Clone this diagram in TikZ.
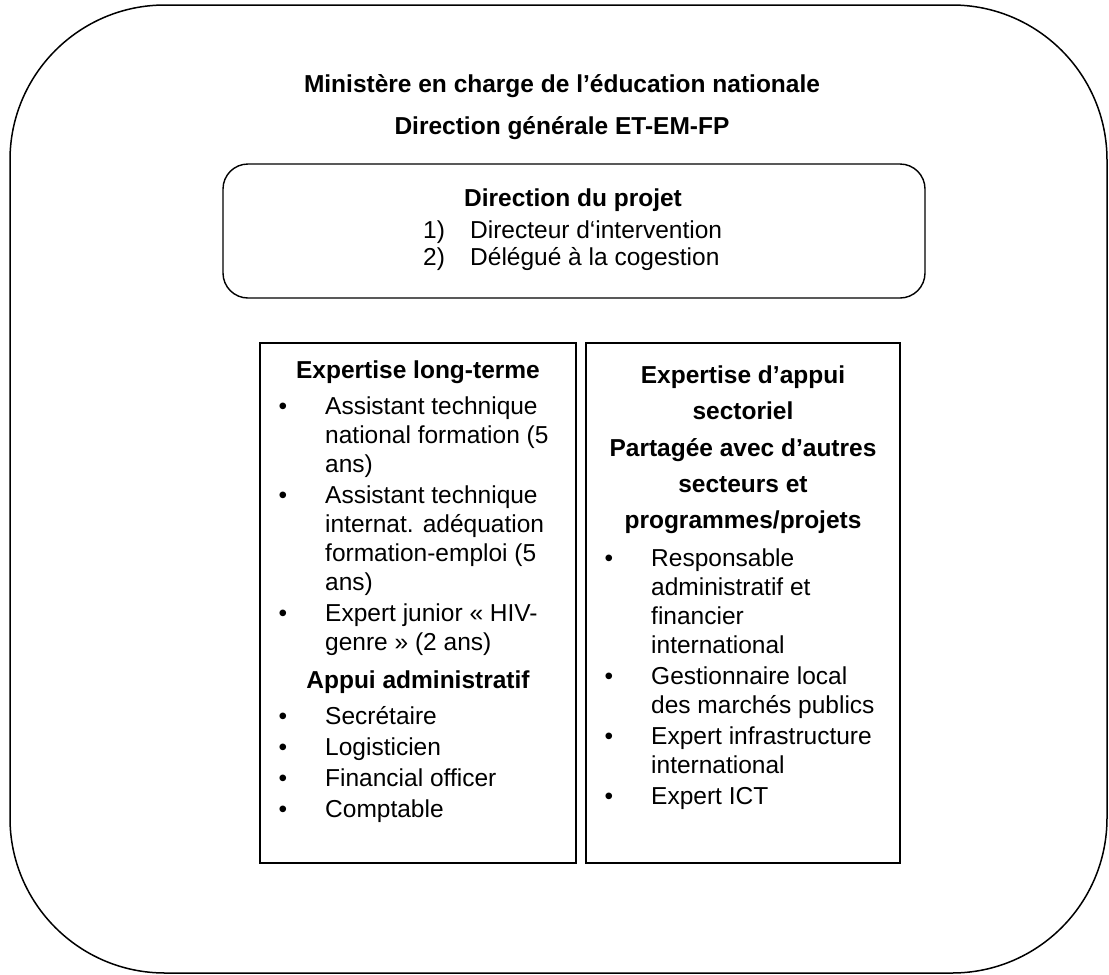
\documentclass[tikz,border=0pt]{standalone}
\usepackage{fontspec}
\setmainfont{Liberation Sans}
\begin{document}
\begin{tikzpicture}[x=1pt,y=-1pt,
  frame/.style={draw=black,line width=1.5pt},
  txt/.style={anchor=base,inner sep=0pt,font=\fontsize{24.5}{28.5}\selectfont},
  head/.style={txt,font=\fontsize{24.5}{28.5}\selectfont\bfseries},
  item/.style={txt,anchor=base west},
  dot/.style={txt,anchor=base}]
\useasboundingbox (0,0) rectangle (1109,975);
% outer frame
\draw[frame] (10,5) [rounded corners=155pt] rectangle (1107,973);
% ministry heading
\node[head] (min) at (562,92) {Ministère en charge de l’éducation nationale};
\node[head] (dg) at (562,134) {Direction générale ET-EM-FP};
% project management box
\draw[frame,line width=1.4pt] (223,164) [rounded corners=25pt] rectangle (925,298);
\node[head] (dp) at (573,206) {Direction du projet};
\node[item] (dp1n) at (423,238) {1)};
\node[item] (dp1) at (470,238) {Directeur d‘intervention};
\node[item] (dp2n) at (423,265) {2)};
\node[item] (dp2) at (470,265) {Délégué à la cogestion};
% long-term expertise box
\draw[frame,line width=1.4pt] (260,343) rectangle (576,863);
\node[head] (lt) at (418,378) {Expertise long-terme};
\node[dot] (b1) at (283,414) {•};
\node[item] (l1a) at (325,414) {Assistant technique};
\node[item] (l1b) at (325,443) {national formation (5};
\node[item] (l1c) at (325,472) {ans)};
\node[dot] (b2) at (283,503) {•};
\node[item] (l2a) at (325,503) {Assistant technique};
\node[item] (l2b) at (325,532) {internat. adéquation};
\node[item] (l2c) at (325,561) {formation-emploi (5};
\node[item] (l2d) at (325,590) {ans)};
\node[dot] (b3) at (283,621) {•};
\node[item] (l3a) at (325,621) {Expert junior « HIV-};
\node[item] (l3b) at (325,650) {genre » (2 ans)};
\node[head] (aa) at (418,688) {Appui administratif};
\node[dot] (b4) at (283,724) {•};
\node[item] (l4) at (325,724) {Secrétaire};
\node[dot] (b5) at (283,755) {•};
\node[item] (l5) at (325,755) {Logisticien};
\node[dot] (b6) at (283,786) {•};
\node[item] (l6) at (325,786) {Financial officer};
\node[dot] (b7) at (283,817) {•};
\node[item] (l7) at (325,817) {Comptable};
% sector support box
\draw[frame,line width=1.4pt] (586,343) rectangle (900,863);
\node[head] (r1) at (743,383) {Expertise d’appui};
\node[head] (r2) at (743,419) {sectoriel};
\node[head] (r3) at (743,456) {Partagée avec d’autres};
\node[head] (r4) at (743,492) {secteurs et};
\node[head] (r5) at (743,528) {programmes/projets};
\node[dot] (c1) at (609,566) {•};
\node[item] (s1a) at (651,566) {Responsable};
\node[item] (s1b) at (651,595) {administratif et};
\node[item] (s1c) at (651,624) {financier};
\node[item] (s1d) at (651,653) {international};
\node[dot] (c2) at (609,684) {•};
\node[item] (s2a) at (651,684) {Gestionnaire local};
\node[item] (s2b) at (651,713) {des marchés publics};
\node[dot] (c3) at (609,744) {•};
\node[item] (s3a) at (651,744) {Expert infrastructure};
\node[item] (s3b) at (651,773) {international};
\node[dot] (c4) at (609,804) {•};
\node[item] (s4) at (651,804) {Expert ICT};
\end{tikzpicture}
\end{document}
